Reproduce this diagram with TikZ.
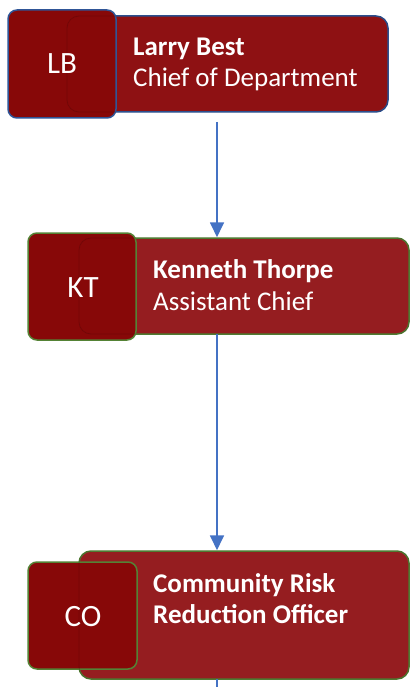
\documentclass[tikz,border=0pt]{standalone}
\usepackage{fontspec}
\setmainfont{Carlito}
\usetikzlibrary{arrows.meta,calc}
\definecolor{mainA}{HTML}{8E1113}
\definecolor{mainB}{HTML}{951D20}
\definecolor{sqfill}{HTML}{870808}
\definecolor{blueln}{HTML}{2F5597}
\definecolor{greenln}{HTML}{548235}
\definecolor{conn}{HTML}{4472C4}
\tikzset{
  mainbox/.style={rounded corners=12pt, line width=1.5pt, inner sep=0pt},
  sqbox/.style={rounded corners=9pt, line width=1.5pt, inner sep=0pt, fill=sqfill},
  ghost/.style={rounded corners=12pt, line width=0.8pt, inner sep=0pt, draw opacity=0.15},
  inittxt/.style={text=white, font=\fontsize{31}{36}\selectfont, anchor=base, inner sep=0pt},
  nametxt/.style={anchor=base west, inner sep=0pt, text=white, font=\fontsize{27}{32}\selectfont\bfseries},
  titletxt/.style={anchor=base west, inner sep=0pt, text=white, font=\fontsize{27}{32}\selectfont},
  connector/.style={draw=conn, line width=1.8pt, -{Triangle[width=14pt,length=15pt]}}
}
\begin{document}
\begin{tikzpicture}[x=1pt,y=-1pt]
\useasboundingbox (0,0) rectangle (413,687);
% box 1
\node[mainbox, draw=blueln, fill=mainA, minimum width=321pt, minimum height=96pt] (m1) at (227.5,64) {};
\node[sqbox, draw=blueln, minimum width=108pt, minimum height=108pt] (s1) at (62,64) {};
\node[ghost, draw=black, minimum width=321pt, minimum height=96pt] (g1) at (227.5,64) {};
\node[inittxt] (i1) at (62,74) {LB};
\node[nametxt] (n1) at (133,56) {Larry Best};
\node[titletxt] (t1) at (133,87) {Chief of Department};
% box 2
\node[mainbox, draw=greenln, fill=mainB, minimum width=330pt, minimum height=96pt] (m2) at (244,286) {};
\node[sqbox, draw=greenln, minimum width=108pt, minimum height=107pt] (s2) at (82,286.5) {};
\node[ghost, draw=black, minimum width=330pt, minimum height=96pt] (g2) at (244,286) {};
\node[inittxt] (i2) at (83,297) {KT};
\node[nametxt] (n2) at (153,278) {Kenneth Thorpe};
\node[titletxt] (t2) at (153,310) {Assistant Chief};
% box 3
\node[mainbox, draw=greenln, fill=mainB, minimum width=330pt, minimum height=128pt] (m3) at (244,615) {};
\node[sqbox, draw=greenln, minimum width=109pt, minimum height=107pt] (s3) at (82.5,615.5) {};
\node[ghost, draw=black, minimum width=330pt, minimum height=128pt] (g3) at (244,615) {};
\node[inittxt] (i3) at (83,626) {CO};
\node[nametxt] (n3) at (153,592) {Community Risk};
\node[nametxt] (t3) at (153,623) {Reduction Officer};
% connectors
\coordinate (a1) at (217,122);
\coordinate (a2) at (217,334);
\coordinate (a3) at (217,679);
\coordinate (a4) at (217,690);
\draw[connector] (a1) -- (a1 |- m2.north);
\draw[connector] (a2) -- (a2 |- m3.north);
\draw[draw=conn, line width=1.8pt] (a3) -- (a4);
\end{tikzpicture}
\end{document}
